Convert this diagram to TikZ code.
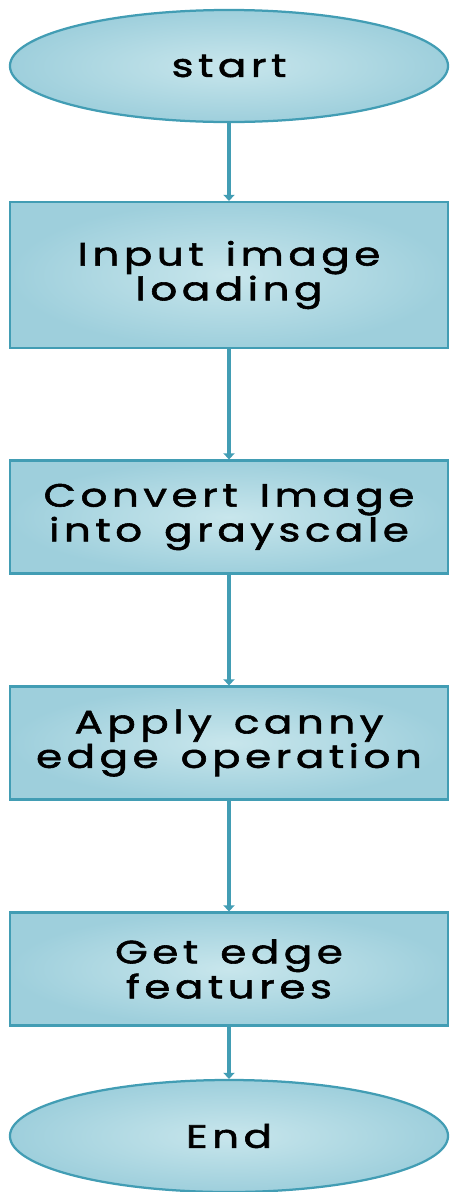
\documentclass[tikz,border=0pt]{standalone}
\usepackage{fontspec}
\setmainfont[LetterSpace=14, FakeStretch=1.3, FakeBold=1.8, WordSpace=1.4]{Poppins}
\usepackage{tikz}
\usetikzlibrary{arrows.meta,shapes.geometric}
\definecolor{flowline}{RGB}{66,157,180}
\definecolor{flowin}{RGB}{200,230,236}
\definecolor{flowout}{RGB}{158,207,220}

\begin{document}
\begin{tikzpicture}[
  x=0.025cm, y=-0.025cm,
  term/.style={
    ellipse, draw=flowline, line width=1.6pt,
    inner color=flowin, outer color=flowout,
    minimum width=10.95cm, minimum height=2.8cm, inner sep=0pt,
    font=\fontsize{23}{23}\selectfont, align=center
  },
  stepbox/.style={
    rectangle, draw=flowline, line width=1.6pt,
    inner color=flowin, outer color=flowout,
    minimum width=10.95cm, minimum height=2.825cm, inner sep=0pt,
    font=\fontsize{23}{23}\selectfont, align=center
  },
  flow/.style={
    draw=flowline, line width=2.6pt,
    -{Triangle[width=0.28cm, length=0.15cm]}
  }
]
  \useasboundingbox (0,0) rectangle (450,1192);
  \node[term] (start) at (229,66) {start};
  \node[stepbox, minimum height=3.65cm] (load) at (229,275) {Input image\\loading};
  \node[stepbox] (gray) at (229,517) {Convert Image\\into grayscale};
  \node[stepbox] (canny) at (229,743) {Apply canny\\edge operation};
  \node[stepbox] (feat) at (229,969) {Get edge\\features};
  \node[term] (end) at (229,1136) {End};
  \foreach \a/\b in {start/load,load/gray,gray/canny,canny/feat,feat/end} {
    \draw[flow] (\a) -- (\b);
  }
\end{tikzpicture}
\end{document}
